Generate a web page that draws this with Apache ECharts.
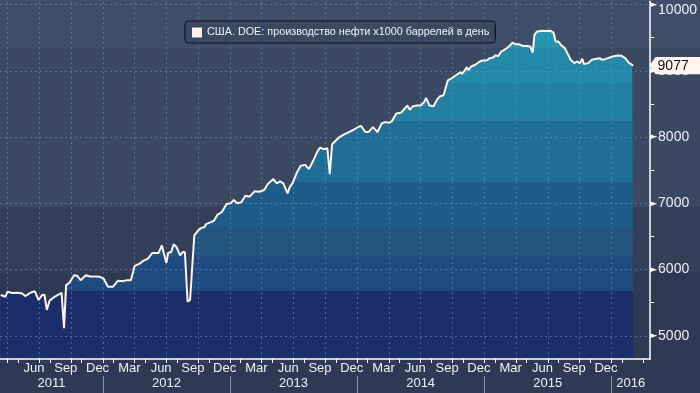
<!DOCTYPE html>
<html>
<head>
<meta charset="utf-8">
<script src="https://cdn.jsdelivr.net/npm/echarts@6/dist/echarts.min.js"></script>
<style>
html,body{margin:0;padding:0;background:#2e3954;}
#chart{width:700px;height:393px;}
</style>
</head>
<body>
<div id="chart"></div>
<script>
// ---------------- data ----------------
const seriesName = 'США. DOE: производство нефти x1000 баррелей в день';
const dates = [
'2011-03-12','2011-03-26','2011-04-01','2011-04-14','2011-04-28','2011-05-13','2011-05-22','2011-06-06','2011-06-18','2011-06-29',
'2011-07-09','2011-07-16','2011-07-23','2011-07-31','2011-08-11','2011-08-26','2011-09-04','2011-09-11','2011-09-17','2011-09-26',
'2011-10-10','2011-10-19','2011-10-29','2011-11-13','2011-11-24','2011-12-09','2011-12-23','2012-01-03','2012-01-16','2012-01-30',
'2012-02-13','2012-02-28','2012-03-08','2012-03-21','2012-04-01','2012-04-14','2012-04-25','2012-05-09','2012-05-22','2012-06-02',
'2012-06-09','2012-06-18','2012-06-24','2012-07-01','2012-07-06','2012-07-15','2012-07-22','2012-07-30','2012-08-10','2012-08-18',
'2012-08-24','2012-09-01','2012-09-08','2012-09-20','2012-10-01','2012-10-09','2012-10-19','2012-10-25','2012-11-07','2012-11-16',
'2012-11-26','2012-12-08','2012-12-22','2013-01-03','2013-01-12','2013-01-22','2013-02-03','2013-02-14','2013-02-25','2013-03-11',
'2013-03-25','2013-04-08','2013-04-18','2013-05-04','2013-05-14','2013-05-24','2013-06-02','2013-06-14','2013-06-21','2013-06-28',
'2013-07-11','2013-07-22','2013-08-04','2013-08-15','2013-08-25','2013-09-01','2013-09-08','2013-09-16','2013-09-27','2013-10-07',
'2013-10-14','2013-10-21','2013-11-09','2013-11-23','2013-12-08','2013-12-22','2014-01-05','2014-01-13','2014-01-25','2014-02-03',
'2014-02-15','2014-02-27','2014-03-11','2014-03-21','2014-04-01','2014-04-09','2014-04-22','2014-05-05','2014-05-14','2014-05-24',
'2014-05-31','2014-06-09','2014-06-21','2014-07-01','2014-07-11','2014-07-17','2014-07-27','2014-08-08','2014-08-18','2014-08-27',
'2014-09-06','2014-09-18','2014-09-30','2014-10-09','2014-10-24','2014-10-30','2014-11-12','2014-11-16','2014-11-24','2014-12-06',
'2014-12-15','2014-12-26','2015-01-08','2015-01-17','2015-01-27','2015-02-03','2015-02-10','2015-02-18','2015-03-01','2015-03-13',
'2015-03-22','2015-03-30','2015-04-09','2015-04-20','2015-05-02','2015-05-12','2015-05-19','2015-05-24','2015-05-31','2015-06-13',
'2015-06-24','2015-07-08','2015-07-18','2015-07-24','2015-08-01','2015-08-09','2015-08-20','2015-08-30','2015-09-06','2015-09-16',
'2015-09-25','2015-10-02','2015-10-09','2015-10-14','2015-10-26','2015-11-06','2015-11-19','2015-11-28','2015-12-05','2015-12-13',
'2015-12-22','2016-01-05','2016-01-20','2016-01-31','2016-02-10','2016-02-19','2016-02-29','2016-03-03'
];
const production = [
5615,5590,5665,5645,5650,5640,5600,5650,5675,5540,
5615,5620,5390,5530,5575,5620,5650,5115,5765,5800,
5915,5905,5840,5915,5895,5895,5890,5865,5740,5740,
5830,5825,5840,5840,6055,6085,6130,6165,6250,6250,
6250,6365,6240,6100,6250,6265,6380,6345,6215,6265,
6265,5515,5540,6515,6590,6625,6640,6690,6715,6740,
6830,6865,6990,7000,7050,7000,7015,7115,7100,7180,
7175,7200,7290,7365,7300,7330,7300,7150,7250,7300,
7465,7565,7580,7515,7615,7690,7775,7840,7815,7830,
7440,7890,7990,8035,8075,8110,8155,8165,8075,8075,
8150,8075,8205,8225,8215,8235,8355,8365,8415,8475,
8410,8465,8475,8475,8525,8590,8475,8465,8565,8615,
8630,8855,8890,8925,8975,8955,9055,9005,9065,9090,
9125,9155,9155,9190,9200,9235,9220,9290,9325,9375,
9425,9400,9400,9375,9375,9365,9275,9540,9590,9605,
9600,9605,9575,9440,9440,9390,9340,9240,9165,9115,
9140,9115,9180,9100,9115,9165,9180,9190,9165,9175,
9190,9215,9230,9225,9190,9125,9090,9077
];
const monthNames = ['Jan','Feb','Mar','Apr','May','Jun','Jul','Aug','Sep','Oct','Nov','Dec'];
const labelMonths = ['Mar','Jun','Sep','Dec'];
const yMajorTicks = [5000,6000,7000,8000,9000,10000];
const yMinorTicks = [5500,6500,7500,8500,9500];
const xStart = '2011-03-10';
const xEnd = '2016-04-21';
const yMin = 4650, yMax = 10050;
const firstYear = 2011;

// ---------------- helpers ----------------
function toM(s){
  const p = s.split('-').map(Number);
  const dim = new Date(Date.UTC(p[0], p[1], 0)).getUTCDate();
  return (p[0]-firstYear)*12 + (p[1]-1) + (p[2]-1)/dim;
}
const X_MIN = toM(xStart), X_MAX = toM(xEnd);
const lineData = dates.map((d,i)=>[toM(d), production[i]]);

const quarterLines = [], tickVals = [], monthLabelVals = [];
for (let m = 0; m <= X_MAX; m++) {
  if (m >= X_MIN && m % 3 === 0 && m + 3 <= X_MAX) quarterLines.push(m);
  if (m >= X_MIN && (m % 3 === 0 || m % 3 === 1)) tickVals.push(m);
  const mid = m + 0.5;
  if (mid > X_MIN + 1 && mid < X_MAX - 3 && labelMonths.indexOf(monthNames[m % 12]) >= 0) monthLabelVals.push(mid);
}
const yearBounds = [], yearMids = [];
for (let y = 0; y * 12 < X_MAX; y++) {
  const a = Math.max(y*12, X_MIN), b = Math.min(y*12+12, X_MAX);
  yearMids.push((a+b)/2);
  if (y > 0) yearBounds.push(y*12);
}
const lastValue = production[production.length-1];

const FONT = 'Liberation Sans';
const txtColor = '#eef0f4';
const gridLine = {color:'rgba(105,160,195,0.5)', type:[2,3], width:1};

const chart = echarts.init(document.getElementById('chart'), null, {renderer:'canvas'});
const H = 393;
function band(stops){
  const cs = [];
  stops.forEach((s,i)=>{
    const from = s[0]/H, to = (i+1<stops.length ? stops[i+1][0] : H)/H;
    cs.push({offset:from, color:s[1]}); cs.push({offset:to, color:s[1]});
  });
  return cs;
}
const option = {
  animation:false,
  backgroundColor:{type:'linear', x:0, y:0, x2:0, y2:1, colorStops: band([
    [0,'#3f4f69'],[48,'#3a4862'],[207,'#333e58'],[273,'#2e3954']
  ])},
  textStyle:{fontFamily:FONT},
  grid:{left:0, right:48, top:0, bottom:34},
  legend:{
    left:185, top:21, data:[seriesName],
    backgroundColor:'#3a4862', borderColor:'#0e121a', borderWidth:1.2, borderRadius:4,
    padding:[6,6,5,7], itemWidth:10, itemHeight:10, itemGap:5, icon:'rect',
    itemStyle:{color:'#fff3ec'},
    textStyle:{color:'#f2f2f2', fontSize:10.8, fontFamily:FONT, padding:[1,0,0,0]}
  },
  xAxis:[
    {type:'value', min:X_MIN, max:X_MAX, z:5,
     axisLine:{show:true, lineStyle:{color:'#ffffff', width:1.5}},
     axisTick:{show:false}, axisLabel:{show:false}, splitLine:{show:false}},
    {type:'value', min:X_MIN, max:X_MAX, position:'bottom', z:5,
     axisLine:{show:false},
     axisTick:{show:true, customValues:tickVals, length:4, lineStyle:{color:'#ffffff', width:1}},
     axisLabel:{show:true, customValues:monthLabelVals, margin:3, color:txtColor, fontSize:13, fontFamily:FONT,
       formatter:v=>monthNames[Math.floor(v)%12]},
     splitLine:{show:false}},
    {type:'value', min:X_MIN, max:X_MAX, position:'bottom', offset:17, z:5,
     axisLine:{show:false},
     axisTick:{show:true, customValues:yearBounds, length:17, lineStyle:{color:'#8c95a8', width:1}},
     axisLabel:{show:true, customValues:yearMids, margin:1, color:txtColor, fontSize:13, fontFamily:FONT,
       formatter:v=>String(firstYear+Math.floor(v/12))},
     splitLine:{show:false}}
  ],
  yAxis:[
    {type:'value', position:'right', min:yMin, max:yMax, z:5,
     axisLine:{show:true, lineStyle:{color:'#ffffff', width:1.5}},
     axisTick:{show:false},
     axisLabel:{show:true, customValues:yMajorTicks, margin:0, color:txtColor, fontSize:13, fontFamily:FONT,
       formatter:v=> v===yMajorTicks[yMajorTicks.length-1] ? '{t|►}{top|'+v+'}' : '{t|►}{v|'+v+'}',
       rich:{
         t:{fontFamily:'DejaVu Sans', fontSize:9, color:'#ffffff', padding:[0,1,0,0]},
         v:{fontFamily:FONT, fontSize:14, color:txtColor},
         top:{fontFamily:FONT, fontSize:14, color:txtColor, padding:[12,0,0,0]}
       }},
     splitLine:{show:false}},
    {type:'value', position:'right', min:yMin, max:yMax, z:5,
     axisLine:{show:false},
     axisTick:{show:true, customValues:yMinorTicks, length:4, lineStyle:{color:'#ffffff', width:1}},
     axisLabel:{show:false}, splitLine:{show:false}}
  ],
  series:[
    {name:'area', type:'line', data:lineData, xAxisIndex:0, yAxisIndex:0, z:1,
     showSymbol:false, silent:true, lineStyle:{width:0},
     areaStyle:{opacity:1, color:{type:'linear', x:0, y:0, x2:0, y2:H, global:true, colorStops: band([
       [0,'#2596b1'],[48,'#2389a8'],[83,'#217fa2'],[121,'#1f6e97'],[182,'#1e5d8a'],[227,'#245480'],[256,'#1f4a7f'],[291,'#1c2e6a']
     ])}},
     markLine:{silent:true, symbol:'none', label:{show:false}, lineStyle:gridLine, z:3, animation:false,
       data: quarterLines.map(m=>({xAxis:m})).concat(yMajorTicks.map(v=>({yAxis:v})))}
    },
    {name:seriesName, type:'line', data:lineData, xAxisIndex:0, yAxisIndex:0, z:4, clip:false,
     showSymbol:false, color:'#fdf3ed', lineStyle:{color:'#fdf3ed', width:2},
     markPoint:{z:10, silent:true, animation:false,
       data:[{coord:[X_MAX, lastValue], value:lastValue}],
       symbol:'path://M0,10 L6,0 L50,0 L50,20 L6,20 Z', symbolSize:[48,16], symbolOffset:[25,0],
       itemStyle:{color:'#fff5ee', borderColor:'#fff5ee'},
       label:{show:true, position:'inside', offset:[-2,0], color:'#111111', fontSize:14, fontFamily:FONT, formatter:'{c}'}}
    }
  ]
};
chart.setOption(option);
</script>
</body>
</html>
